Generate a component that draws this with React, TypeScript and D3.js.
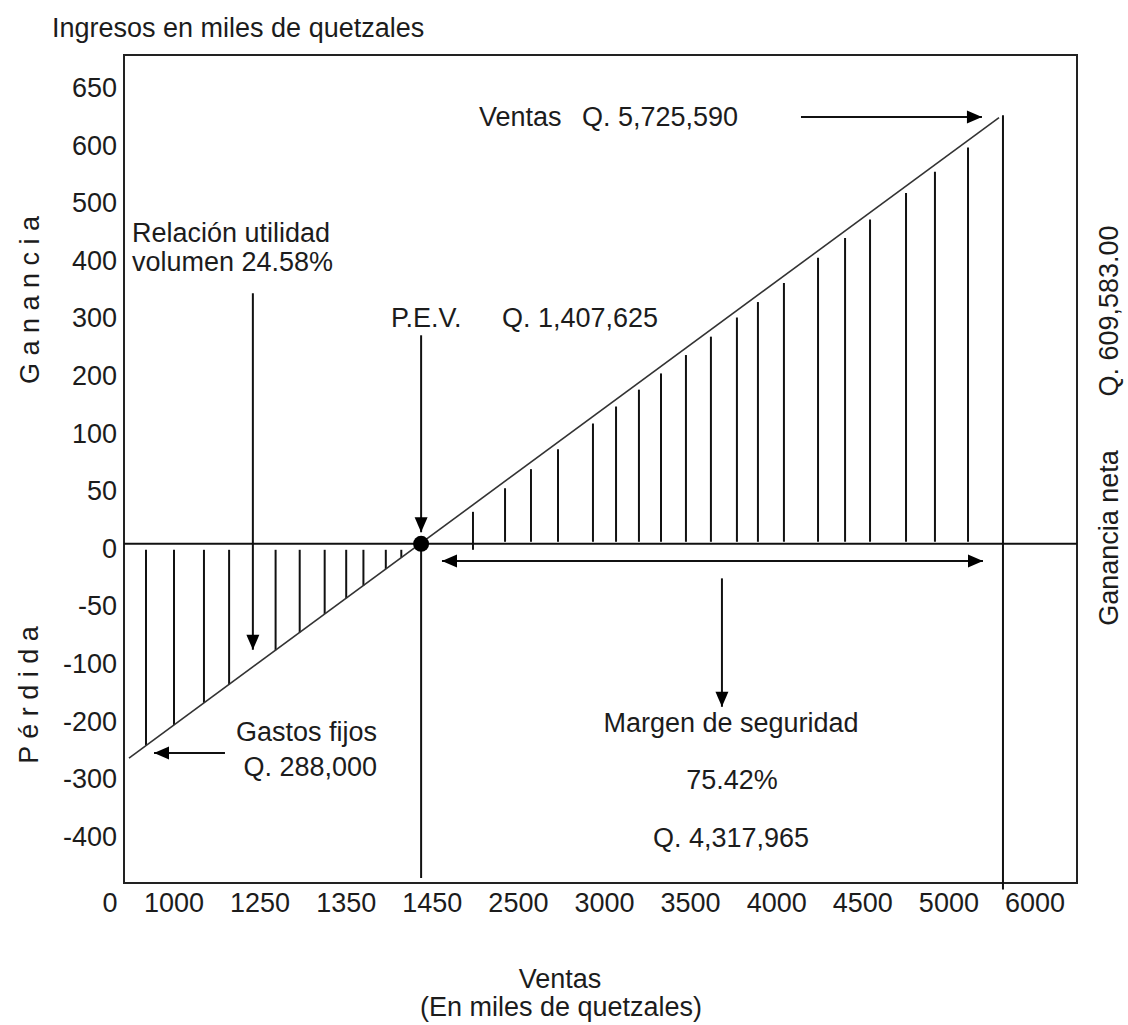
import React from 'react';
import * as d3 from 'd3';

// Tick labels (schematic axes)
const X_TICKS = [0, 1000, 1250, 1350, 1450, 2500, 3000, 3500, 4000, 4500, 5000, 6000];
const Y_TICKS = [650, 600, 500, 400, 300, 200, 100, 50, 0, -50, -100, -200, -300, -400];

// Hatch lines (sales positions, miles de quetzales)
const LOSS_HATCH = [440, 1000, 1087, 1160, 1268, 1296, 1325, 1350, 1370, 1396, 1414];
const GAIN_HATCH = [1946, 2337, 2573, 2730, 2933, 3067, 3200, 3328, 3473, 3618, 3769, 3891, 4042, 4240, 4397, 4542, 4751, 4919, 5222];

// Profit line: [sales, profit]
const PROFIT_LINE: [number, number][] = [[100, -272], [5582, 620]];
const PEV_POINT: [number, number] = [1437, 0];
const SALES_TOTAL = 5628;
const SALES_TOP = 622;
const AXIS_BOTTOM_VALUE = -480;
const SALES_BOTTOM_VALUE = -500;

// Annotation arrows [sales, profit] from -> to (tip)
const ARROWS: { from: [number, number]; to: [number, number] }[] = [
  { from: [4141, 620.5], to: [5384, 620.5] },
  { from: [1229, 335], to: [1229, -92] },
  { from: [1437, 262], to: [1437, 10] },
  { from: [3682, -30], to: [3682, -183] },
  { from: [1148, -263], to: [600, -263] },
];
const DOUBLE_ARROW: { from: [number, number]; to: [number, number] } = { from: [1568, -15], to: [5396, -15] };

const W = 1128;
const H = 1025;
const FRAME = { left: 124, top: 55, right: 1077, bottom: 883 };
const FONT = "'Liberation Sans', Arial, sans-serif";
const FS = 27;
const INK = '#111';
const TEXT_INK = '#1c1c1c';

const xRange = X_TICKS.map((_, i) => (i === 0 ? FRAME.left : 174 + 86.1 * (i - 1)));
const yRange = Y_TICKS.map((_, i) => 83 + 57.6 * i);
const x = d3.scaleLinear().domain(X_TICKS).range(xRange);
const y = d3.scaleLinear().domain(Y_TICKS).range(yRange);

function head(tip: [number, number], from: [number, number], len = 15, half = 6.5) {
  const dx = tip[0] - from[0];
  const dy = tip[1] - from[1];
  const d = Math.hypot(dx, dy) || 1;
  const ux = dx / d, uy = dy / d;
  const bx = tip[0] - ux * len, by = tip[1] - uy * len;
  const px = -uy * half, py = ux * half;
  return `${tip[0]},${tip[1]} ${bx + px},${by + py} ${bx - px},${by - py}`;
}

export default function App() {
  const p0: [number, number] = [x(PROFIT_LINE[0][0]), y(PROFIT_LINE[0][1])];
  const p1: [number, number] = [x(PROFIT_LINE[1][0]), y(PROFIT_LINE[1][1])];
  const lineAt = (px: number) => p0[1] + ((px - p0[0]) * (p1[1] - p0[1])) / (p1[0] - p0[0]);
  const line = d3.line<[number, number]>().x((d) => x(d[0])).y((d) => y(d[1]));
  const zeroY = y(0);

  const textProps = { fontFamily: FONT, fontSize: FS, fill: TEXT_INK, dominantBaseline: 'central' as const };

  return (
    <svg width={W} height={H} style={{ position: 'absolute', left: 0, top: 0, background: '#fff' }}>
      <rect x={0} y={0} width={W} height={H} fill="#fff" />
      {/* frame */}
      <rect x={FRAME.left} y={FRAME.top} width={FRAME.right - FRAME.left} height={FRAME.bottom - FRAME.top}
        fill="none" stroke="#222" strokeWidth={2} />
      {/* zero line */}
      <line x1={FRAME.left} x2={FRAME.right} y1={zeroY} y2={zeroY} stroke={INK} strokeWidth={2} />

      {/* hatches */}
      {LOSS_HATCH.map((v, i) => {
        const px = x(v);
        return <line key={'l' + i} x1={px} x2={px} y1={zeroY + 6} y2={lineAt(px)} stroke={INK} strokeWidth={2} />;
      })}
      {GAIN_HATCH.map((v, i) => {
        const px = x(v);
        return <line key={'g' + i} x1={px} x2={px} y1={i === 0 ? zeroY + 6 : zeroY - 2} y2={lineAt(px) + 7} stroke={INK} strokeWidth={2} />;
      })}

      {/* profit line */}
      <path d={line(PROFIT_LINE) || ''} fill="none" stroke="#333" strokeWidth={1.6} />

      {/* PEV vertical and sales vertical */}
      <line x1={x(PEV_POINT[0])} x2={x(PEV_POINT[0])} y1={y(PEV_POINT[1])} y2={y(AXIS_BOTTOM_VALUE)} stroke={INK} strokeWidth={2} />
      <line x1={x(SALES_TOTAL)} x2={x(SALES_TOTAL)} y1={y(SALES_TOP)} y2={y(SALES_BOTTOM_VALUE)} stroke={INK} strokeWidth={2} />
      <circle cx={x(PEV_POINT[0])} cy={y(PEV_POINT[1])} r={8} fill="#000" />

      {/* arrows */}
      {ARROWS.map((a, i) => {
        const f: [number, number] = [x(a.from[0]), y(a.from[1])];
        const t: [number, number] = [x(a.to[0]), y(a.to[1])];
        return (
          <g key={'a' + i}>
            <line x1={f[0]} y1={f[1]} x2={t[0]} y2={t[1]} stroke={INK} strokeWidth={2} />
            <polygon points={head(t, f)} fill="#000" />
          </g>
        );
      })}
      {(() => {
        const f: [number, number] = [x(DOUBLE_ARROW.from[0]), y(DOUBLE_ARROW.from[1])];
        const t: [number, number] = [x(DOUBLE_ARROW.to[0]), y(DOUBLE_ARROW.to[1])];
        return (
          <g>
            <line x1={f[0]} y1={f[1]} x2={t[0]} y2={t[1]} stroke={INK} strokeWidth={2} />
            <polygon points={head(t, f)} fill="#000" />
            <polygon points={head(f, t)} fill="#000" />
          </g>
        );
      })()}

      {/* y tick labels */}
      {Y_TICKS.map((v) => (
        <text key={'y' + v} x={FRAME.left - 7} y={y(v) + 5} textAnchor="end" {...textProps}>{v}</text>
      ))}
      {/* x tick labels */}
      {X_TICKS.map((v) => (
        <text key={'x' + v} x={v === 0 ? x(v) - 14 : x(v)} y={903} textAnchor="middle" {...textProps}>{v}</text>
      ))}

      {/* titles */}
      <text x={52} y={28} {...textProps}>Ingresos en miles de quetzales</text>
      <text x={560} y={979} textAnchor="middle" {...textProps}>Ventas</text>
      <text x={561} y={1007} textAnchor="middle" {...textProps}>(En miles de quetzales)</text>

      <text transform="translate(30,300) rotate(-90)" textAnchor="middle" {...textProps}>G a n a n c i a</text>
      <text transform="translate(29,695) rotate(-90)" textAnchor="middle" {...textProps}>P é r d i d a</text>
      <text transform="translate(1109,311) rotate(-90)" textAnchor="middle" {...textProps}>Q. 609,583.00</text>
      <text transform="translate(1109,538) rotate(-90)" textAnchor="middle" {...textProps}>Ganancia neta</text>

      {/* annotations */}
      <text x={479} y={117} {...textProps}>Ventas</text>
      <text x={582} y={117} {...textProps}>Q. 5,725,590</text>
      <text x={132} y={233} {...textProps}>Relación utilidad</text>
      <text x={132} y={262} {...textProps}>volumen 24.58%</text>
      <text x={391} y={318} {...textProps}>P.E.V.</text>
      <text x={502} y={318} {...textProps}>Q. 1,407,625</text>
      <text x={377} y={732} textAnchor="end" {...textProps}>Gastos fijos</text>
      <text x={377} y={767} textAnchor="end" {...textProps}>Q. 288,000</text>
      <text x={731} y={723} textAnchor="middle" {...textProps}>Margen de seguridad</text>
      <text x={732} y={780} textAnchor="middle" {...textProps}>75.42%</text>
      <text x={731} y={838} textAnchor="middle" {...textProps}>Q. 4,317,965</text>
    </svg>
  );
}
